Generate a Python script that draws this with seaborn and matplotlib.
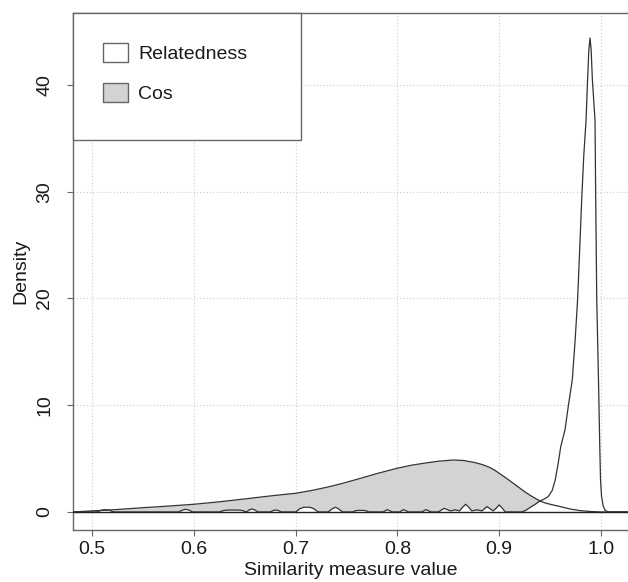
import matplotlib
matplotlib.use("Agg")
import pandas as pd
import seaborn as sns
from matplotlib import pyplot as plt
from matplotlib.patches import Patch, Rectangle

# density of the cosine similarity (gray filled curve)
COS_X = [0.482, 0.50, 0.52, 0.55, 0.575, 0.60, 0.625, 0.65, 0.675, 0.70,
         0.715, 0.73, 0.745, 0.76, 0.78, 0.80, 0.815, 0.83, 0.84, 0.855,
         0.865, 0.875, 0.883, 0.89, 0.895, 0.90, 0.905, 0.91, 0.915, 0.92,
         0.925, 0.93, 0.935, 0.94, 0.945, 0.95, 0.96, 0.97, 0.98, 0.99,
         1.00, 1.026]
COS_Y = [0.0, 0.1, 0.2, 0.4, 0.55, 0.72, 0.95, 1.22, 1.5, 1.75,
         2.0, 2.3, 2.65, 3.05, 3.6, 4.1, 4.4, 4.62, 4.75, 4.87,
         4.82, 4.65, 4.45, 4.2, 3.95, 3.62, 3.3, 2.95, 2.6, 2.25,
         1.9, 1.58, 1.3, 1.03, 0.85, 0.72, 0.5, 0.27, 0.12, 0.04,
         0.0, 0.0]

# density of the relatedness measure (white filled curve)
REL_X = [0.482, 0.505, 0.509, 0.513, 0.517, 0.521, 0.585, 0.589, 0.592, 0.595,
         0.599, 0.625, 0.630, 0.634, 0.643, 0.647, 0.652, 0.654, 0.657, 0.660,
         0.663, 0.675, 0.678, 0.680, 0.683, 0.686, 0.700, 0.704, 0.708, 0.714,
         0.718, 0.722, 0.732, 0.736, 0.739, 0.742, 0.746, 0.756, 0.759, 0.762,
         0.766, 0.769, 0.772, 0.786, 0.790, 0.795, 0.802, 0.806, 0.811, 0.824,
         0.828, 0.833, 0.840, 0.846, 0.852, 0.857, 0.861, 0.864, 0.867, 0.870,
         0.873, 0.878, 0.883, 0.888, 0.894, 0.897, 0.900, 0.903, 0.906, 0.922,
         0.926, 0.930, 0.935, 0.940, 0.944, 0.948, 0.952, 0.955, 0.958,
         0.9604, 0.9646, 0.968, 0.9718, 0.9745, 0.977, 0.979, 0.981, 0.983,
         0.9853, 0.9868, 0.988, 0.9892, 0.9903, 0.9915, 0.9941, 0.9948,
         0.9958, 0.9975, 0.9988, 0.9995, 1.0005, 1.002, 1.004, 1.007, 1.026]
REL_Y = [0.0, 0.0, 0.16, 0.22, 0.16, 0.0, 0.0, 0.18, 0.25, 0.18,
         0.0, 0.0, 0.15, 0.18, 0.18, 0.15, 0.0, 0.18, 0.28, 0.18,
         0.0, 0.0, 0.14, 0.19, 0.14, 0.0, 0.0, 0.3, 0.44, 0.44,
         0.3, 0.0, 0.0, 0.3, 0.44, 0.3, 0.0, 0.0, 0.12, 0.15,
         0.15, 0.12, 0.0, 0.0, 0.22, 0.0, 0.0, 0.22, 0.0, 0.0,
         0.22, 0.0, 0.0, 0.34, 0.1, 0.2, 0.1, 0.45, 0.72, 0.45,
         0.1, 0.2, 0.1, 0.5, 0.1, 0.35, 0.66, 0.35, 0.0, 0.0,
         0.15, 0.4, 0.7, 1.03, 1.2, 1.43, 2.0, 3.0, 4.6,
         6.1, 7.7, 10.0, 12.4, 16.0, 19.9, 24.5, 29.2, 33.3,
         36.7, 40.5, 43.2, 44.4, 43.3, 40.5, 36.7, 29.2,
         19.9, 12.4, 6.0, 3.0, 1.5, 0.6, 0.15, 0.0, 0.0]

X_TICKS = [0.5, 0.6, 0.7, 0.8, 0.9, 1.0]
X_TICK_LABELS = ["0.5", "0.6", "0.7", "0.8", "0.9", "1.0"]
Y_TICKS = [0, 10, 20, 30, 40]
Y_TICK_LABELS = ["0", "10", "20", "30", "40"]
LEGEND_LABELS = ["Relatedness", "Cos"]

sns.set_theme(style="ticks")
plt.rcParams["font.family"] = ["Liberation Sans", "DejaVu Sans"]

line_col = "#333333"
axis_col = "#666666"
gray_fill = "#d3d3d3"

fig = plt.figure(figsize=(6.28, 5.82), dpi=100)
ax = fig.add_axes([73 / 628, 52 / 582, 555 / 628, 517 / 582])

df_cos = pd.DataFrame({"x": COS_X, "density": COS_Y})
df_rel = pd.DataFrame({"x": REL_X, "density": REL_Y})

ax.fill_between(df_cos["x"], 0, df_cos["density"], color=gray_fill, lw=0, zorder=2)
ax.fill_between(df_rel["x"], 0, df_rel["density"], color="white", lw=0, zorder=3)
sns.lineplot(data=df_cos, x="x", y="density", sort=False, estimator=None,
             color=line_col, lw=0.9, ax=ax, zorder=4)
sns.lineplot(data=df_rel, x="x", y="density", sort=False, estimator=None,
             color=line_col, lw=0.9, ax=ax, zorder=4)
ax.axhline(0, color="#222222", lw=1.0, zorder=5)

ax.set_xlim(0.4813, 1.0265)
ax.set_ylim(-1.69, 46.74)
ax.set_xticks(X_TICKS)
ax.set_xticklabels(X_TICK_LABELS)
ax.set_yticks(Y_TICKS)
ax.set_yticklabels(Y_TICK_LABELS, rotation=90, va="center")

ax.grid(True, ls=(0, (1, 2)), color="#cccccc", lw=0.8)
ax.set_axisbelow(True)

for side in ["left", "top", "bottom"]:
    ax.spines[side].set_color(axis_col)
    ax.spines[side].set_linewidth(1.0)
ax.spines["right"].set_visible(False)

ax.tick_params(axis="both", direction="out", length=4.3, width=0.8,
               color=axis_col, labelsize=14, labelcolor="#1a1a1a")
ax.tick_params(axis="x", pad=3.5)
ax.tick_params(axis="y", pad=10)

ax.set_xlabel("Similarity measure value", fontsize=14, color="#1a1a1a", labelpad=3)
ax.set_ylabel("Density", fontsize=14, color="#1a1a1a", labelpad=5)

# legend box, drawn the R way: square frame stuck to the top left corner
frame = Rectangle((0, (530 - 140) / 517), (301 - 73) / 555, (140 - 13) / 517,
                  transform=ax.transAxes, facecolor="white", edgecolor=axis_col,
                  lw=1.0, zorder=6, clip_on=False)
ax.add_patch(frame)
handles = [
    Patch(facecolor="white", edgecolor=axis_col, lw=1.0),
    Patch(facecolor=gray_fill, edgecolor=axis_col, lw=1.0),
]
leg = ax.legend(handles, LEGEND_LABELS, loc="upper left", bbox_to_anchor=(0, 1),
                borderaxespad=0, frameon=False, fontsize=14, borderpad=1.55,
                handlelength=1.29, handleheight=1.13, handletextpad=0.51,
                labelspacing=1.03)
leg.set_zorder(7)
for t in leg.get_texts():
    t.set_color("#1a1a1a")

fig.savefig("out.png", dpi=100)
